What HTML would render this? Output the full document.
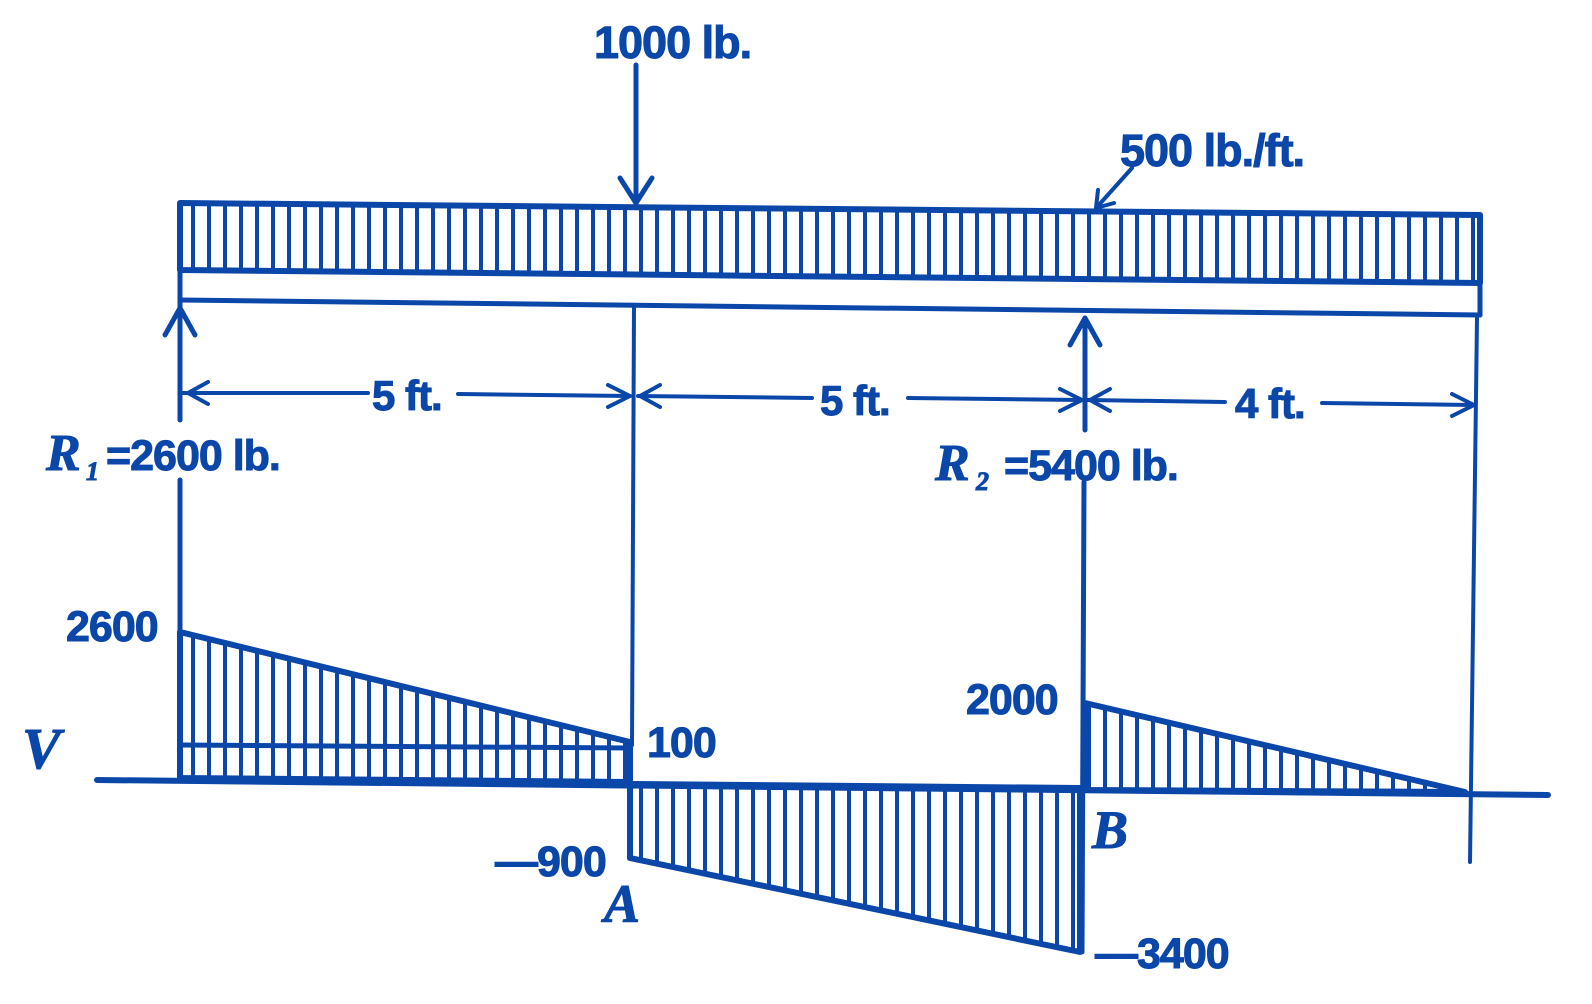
<!DOCTYPE html>
<html><head><meta charset="utf-8"><style>
html,body{margin:0;background:#fff;overflow:hidden}
svg{display:block}
text{font-family:"Liberation Sans",sans-serif;font-weight:bold;fill:#0b47a8;stroke:#0b47a8;stroke-width:1px;letter-spacing:-1px}
.it{font-family:"Liberation Serif",serif;font-style:italic;font-weight:bold}
</style></head><body>
<svg width="1592" height="1004" viewBox="0 0 1592 1004">
<defs>
<pattern id="h" width="16" height="20" patternUnits="userSpaceOnUse" x="184">
<rect x="7" y="0" width="4" height="20" fill="#0b47a8"/>
</pattern>
</defs>
<g stroke="#0b47a8" stroke-linecap="round" stroke-linejoin="round" fill="none">
<polygon points="180,203 1480,215 1480,283 180,270" fill="url(#h)" stroke-width="6"/>
<line x1="180" y1="300" x2="1480" y2="315" stroke-width="5"/>
<line x1="180" y1="270" x2="180" y2="300" stroke-width="5"/>
<line x1="1480" y1="283" x2="1480" y2="315" stroke-width="5"/>
<line x1="636" y1="65" x2="636" y2="203" stroke-width="5"/>
<polyline points="620,178 636,203 652,178" stroke-width="5"/>
<line x1="1132" y1="168" x2="1097" y2="207" stroke-width="4"/>
<polyline points="1098,190 1096,208 1114,203" stroke-width="4"/>
<line x1="180" y1="300" x2="180" y2="420" stroke-width="5"/>
<polyline points="165,335 180,308 195,335" stroke-width="5"/>
<line x1="180" y1="480" x2="180" y2="780" stroke-width="5"/>
<line x1="634" y1="305" x2="632" y2="745" stroke-width="4"/>
<line x1="1085" y1="318" x2="1085" y2="430" stroke-width="5"/>
<polyline points="1070,345 1085,318 1100,345" stroke-width="5"/>
<line x1="1084" y1="482" x2="1082" y2="952" stroke-width="5"/>
<line x1="1477" y1="318" x2="1470" y2="862" stroke-width="4"/>
<line x1="182" y1="393" x2="368" y2="393" stroke-width="4"/>
<line x1="458" y1="394" x2="630" y2="396" stroke-width="4"/>
<polyline points="208,382 188,393 208,404" stroke-width="4"/>
<polyline points="608,385 630,396 608,407" stroke-width="4"/>
<line x1="638" y1="396" x2="812" y2="398" stroke-width="4"/>
<line x1="908" y1="398" x2="1082" y2="400" stroke-width="4"/>
<polyline points="660,385 640,396 660,407" stroke-width="4"/>
<polyline points="1060,389 1082,400 1060,411" stroke-width="4"/>
<line x1="1088" y1="400" x2="1225" y2="402" stroke-width="4"/>
<line x1="1322" y1="403" x2="1474" y2="405" stroke-width="4"/>
<polyline points="1110,389 1090,400 1110,411" stroke-width="4"/>
<polyline points="1452,394 1474,405 1452,416" stroke-width="4"/>
<line x1="97" y1="780" x2="1548" y2="795" stroke-width="6"/>
<polygon points="180,632 630,742 630,782 180,778" fill="url(#h)" stroke-width="6"/>
<line x1="180" y1="745" x2="630" y2="748" stroke-width="5"/>
<polygon points="630,784 1080,788 1080,952 630,858" fill="url(#h)" stroke-width="6"/>
<polygon points="1085,703 1465,792 1085,790" fill="url(#h)" stroke-width="6"/>
</g>
<text x="594" y="58" font-size="45">1000 lb.</text>
<text x="1120" y="166" font-size="45">500 lb./ft.</text>
<text x="372" y="410" font-size="42">5 ft.</text>
<text x="820" y="415" font-size="42">5 ft.</text>
<text x="1235" y="418" font-size="42">4 ft.</text>
<text x="46" y="470" font-size="52" class="it">R</text><text x="86" y="480" font-size="26" class="it">1</text>
<text x="106" y="470" font-size="43">=2600 lb.</text>
<text x="935" y="480" font-size="52" class="it">R</text><text x="976" y="490" font-size="26" class="it">2</text>
<text x="1004" y="480" font-size="43">=5400 lb.</text>
<text x="66" y="641" font-size="43">2600</text>
<text x="966" y="714" font-size="43">2000</text>
<text x="647" y="757" font-size="43">100</text>
<text x="495" y="876" font-size="43">—900</text>
<text x="1095" y="968" font-size="43">—3400</text>
<text x="22" y="768" font-size="58" class="it">V</text>
<text x="604" y="922" font-size="54" class="it">A</text>
<text x="1092" y="848" font-size="54" class="it">B</text>
</svg>
</body></html>
